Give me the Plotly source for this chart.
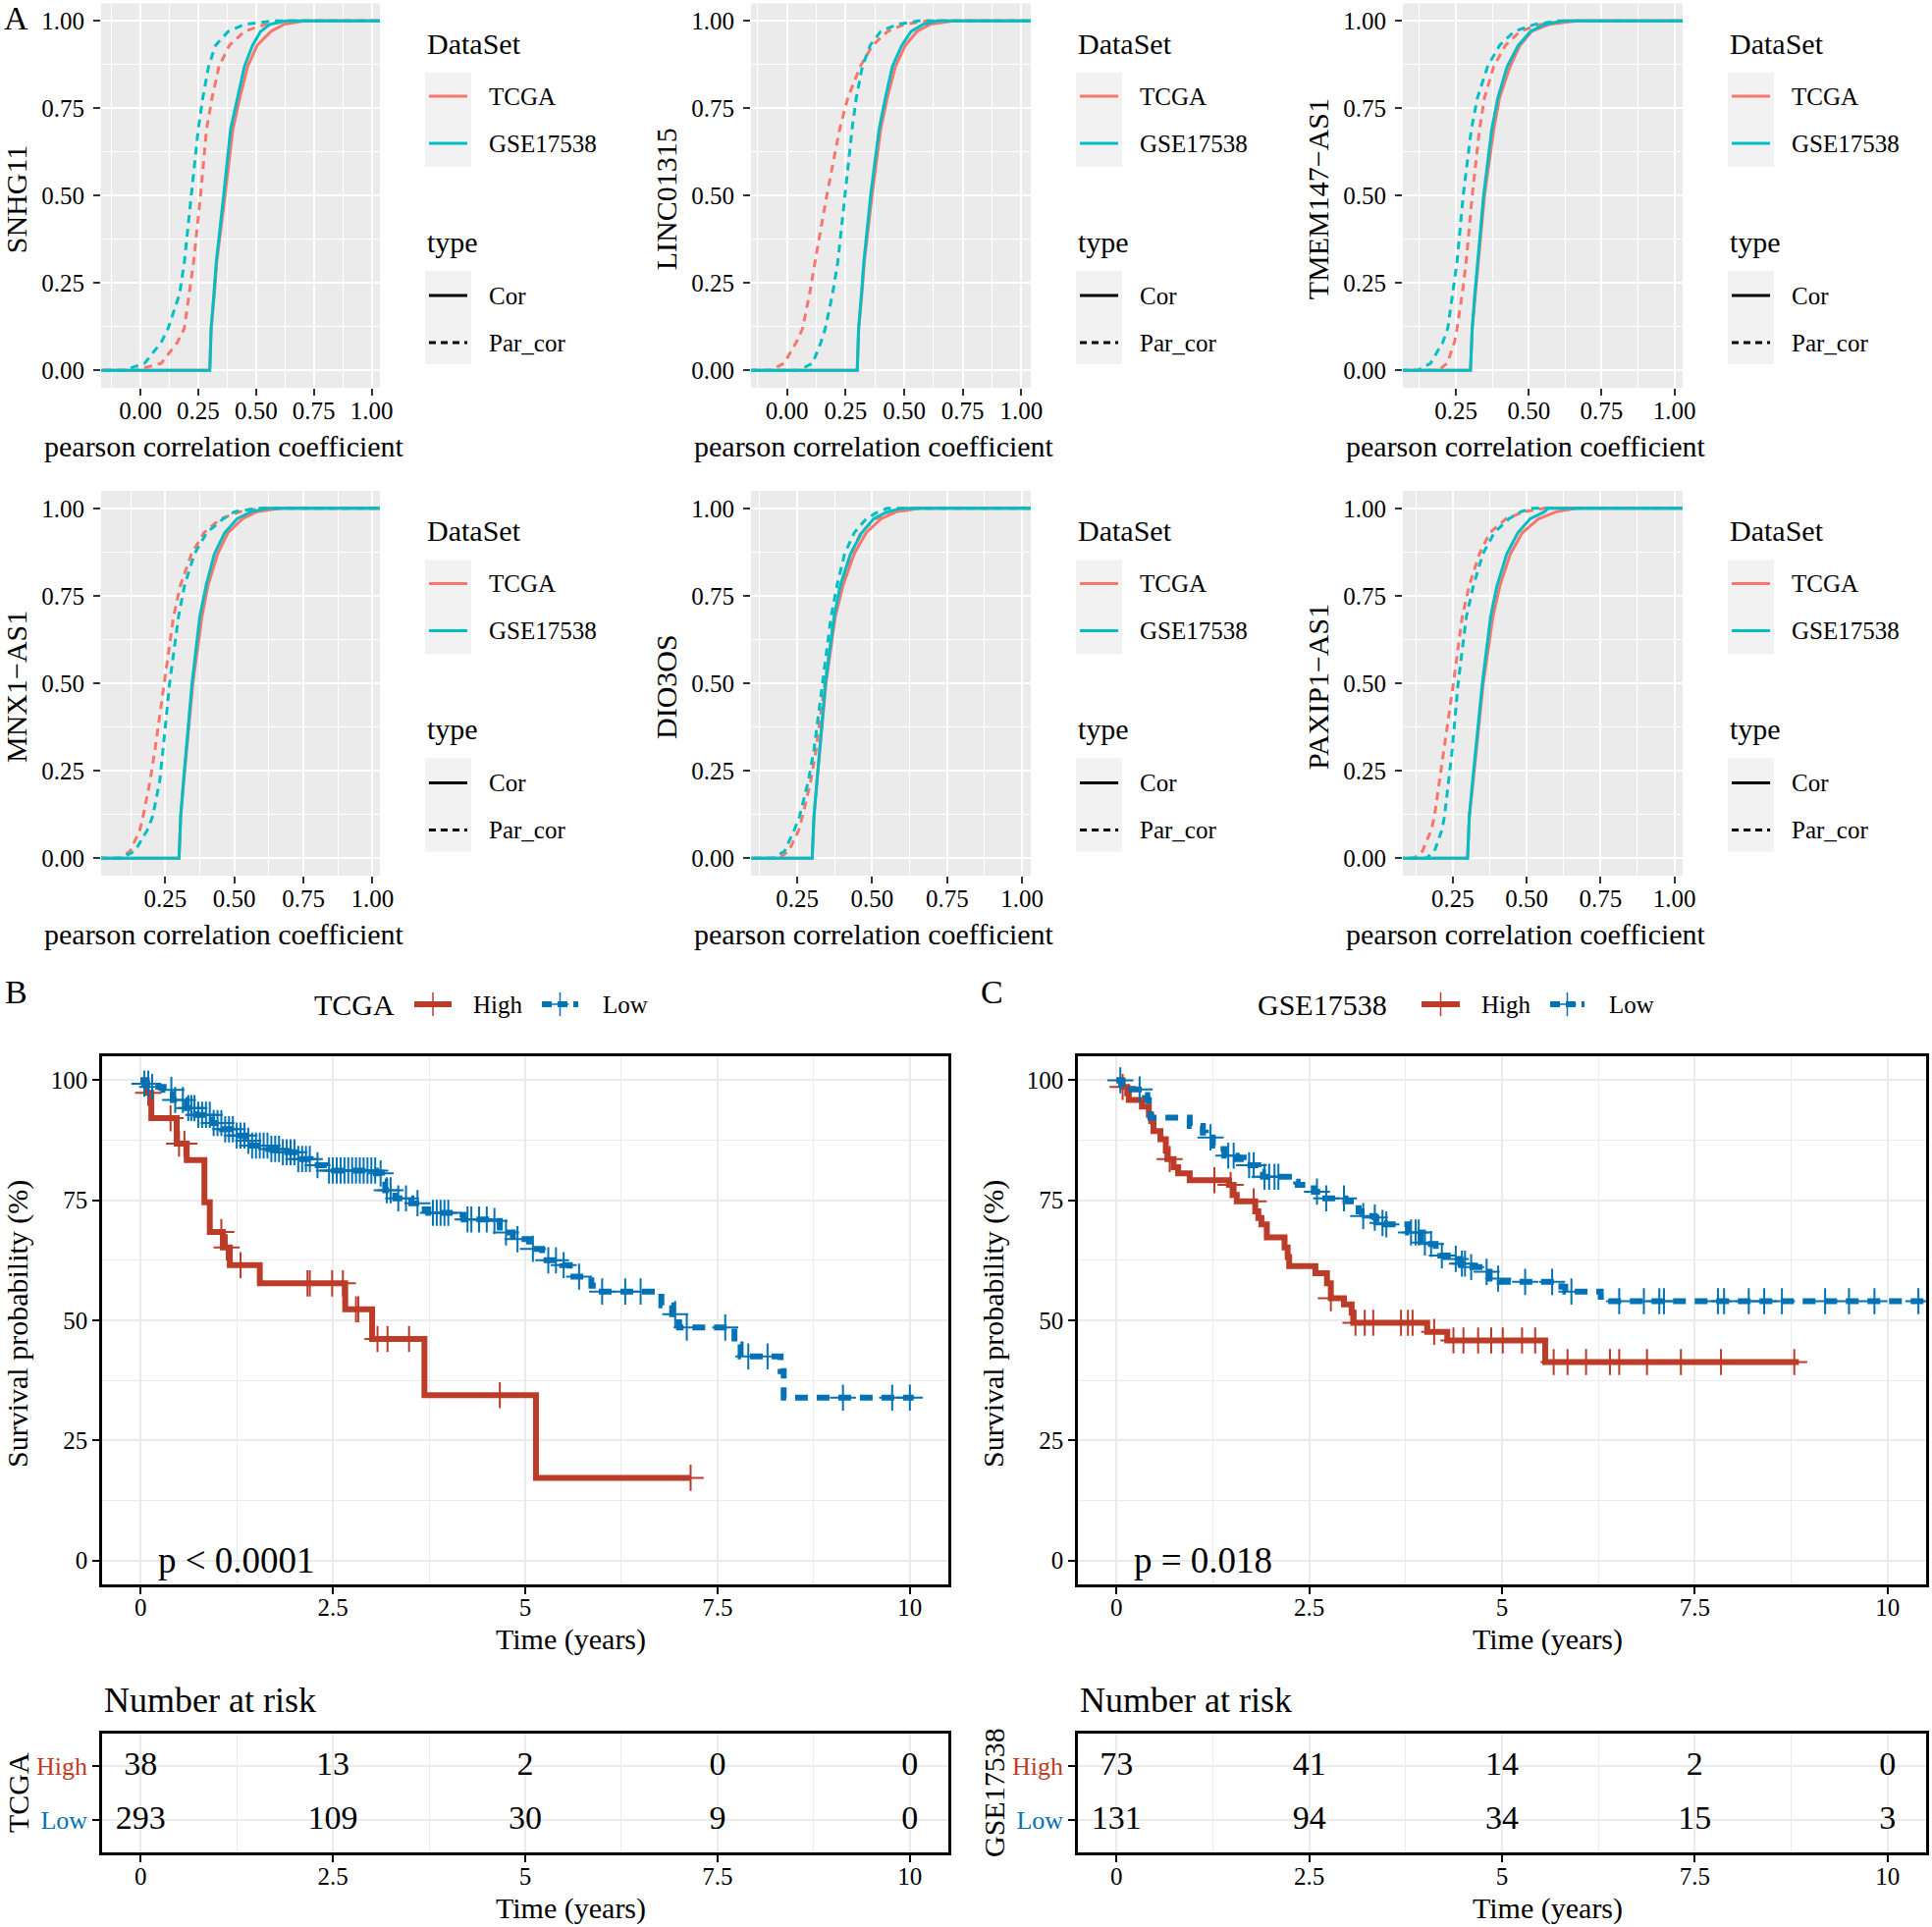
import plotly.graph_objects as go

W, H = 1968, 1963
SERIF = "Liberation Serif, Times New Roman, serif"

# ---------------- A: ECDF of pearson correlation (x quantiles)
ecdf_levels = [0, 0.02, 0.08, 0.12, 0.22, 0.31, 0.5, 0.69, 0.78, 0.87, 0.93, 0.97, 0.99, 1.0]

genes = ["SNHG11", "LINC01315", "TMEM147−AS1", "MNX1−AS1", "DIO3OS", "PAXIP1−AS1"]

snhg11 = {
    "TCGA Cor": [0.30, 0.301, 0.303, 0.306, 0.32, 0.33, 0.366, 0.40, 0.43, 0.464, 0.505, 0.565, 0.62, 0.71],
    "TCGA Par_cor": [-0.02, 0.09, 0.16, 0.19, 0.21, 0.23, 0.26, 0.286, 0.31, 0.34, 0.385, 0.45, 0.54, 0.64],
    "GSE17538 Cor": [0.30, 0.301, 0.303, 0.306, 0.318, 0.328, 0.36, 0.39, 0.42, 0.45, 0.485, 0.52, 0.56, 0.63],
    "GSE17538 Par_cor": [-0.07, 0.018, 0.09, 0.12, 0.17, 0.19, 0.22, 0.25, 0.27, 0.295, 0.325, 0.38, 0.45, 0.57],
}
linc01315 = {
    "TCGA Cor": [0.30, 0.301, 0.303, 0.306, 0.32, 0.33, 0.363, 0.40, 0.428, 0.463, 0.505, 0.555, 0.61, 0.71],
    "TCGA Par_cor": [-0.07, -0.012, 0.04, 0.067, 0.097, 0.12, 0.17, 0.225, 0.26, 0.313, 0.365, 0.43, 0.50, 0.60],
    "GSE17538 Cor": [0.30, 0.301, 0.303, 0.306, 0.318, 0.328, 0.357, 0.393, 0.42, 0.45, 0.49, 0.53, 0.58, 0.64],
    "GSE17538 Par_cor": [0.05, 0.11, 0.145, 0.164, 0.195, 0.217, 0.248, 0.278, 0.296, 0.322, 0.355, 0.40, 0.47, 0.56],
}
tmem147_as1 = {
    "TCGA Cor": [0.30, 0.301, 0.303, 0.306, 0.317, 0.327, 0.348, 0.38, 0.40, 0.436, 0.47, 0.51, 0.57, 0.666],
    "TCGA Par_cor": [0.19, 0.22, 0.245, 0.254, 0.272, 0.285, 0.306, 0.331, 0.348, 0.38, 0.42, 0.47, 0.54, 0.625],
    "GSE17538 Cor": [0.30, 0.301, 0.303, 0.306, 0.315, 0.325, 0.345, 0.373, 0.394, 0.426, 0.464, 0.506, 0.555, 0.62],
    "GSE17538 Par_cor": [0.12, 0.163, 0.205, 0.222, 0.24, 0.254, 0.275, 0.303, 0.324, 0.359, 0.40, 0.45, 0.52, 0.60],
}
mnx1_as1 = {
    "TCGA Cor": [0.30, 0.301, 0.303, 0.306, 0.317, 0.328, 0.35, 0.383, 0.405, 0.44, 0.477, 0.53, 0.58, 0.67],
    "TCGA Par_cor": [0.086, 0.123, 0.158, 0.17, 0.195, 0.213, 0.247, 0.28, 0.305, 0.345, 0.39, 0.45, 0.52, 0.594],
    "GSE17538 Cor": [0.30, 0.301, 0.303, 0.306, 0.316, 0.326, 0.347, 0.375, 0.398, 0.428, 0.465, 0.51, 0.56, 0.62],
    "GSE17538 Par_cor": [0.09, 0.14, 0.185, 0.205, 0.23, 0.242, 0.266, 0.298, 0.32, 0.356, 0.40, 0.46, 0.50, 0.58],
}
dio3os = {
    "TCGA Cor": [0.30, 0.301, 0.303, 0.306, 0.316, 0.325, 0.346, 0.377, 0.403, 0.44, 0.48, 0.53, 0.58, 0.66],
    "TCGA Par_cor": [0.19, 0.222, 0.255, 0.268, 0.295, 0.313, 0.342, 0.376, 0.40, 0.43, 0.462, 0.51, 0.578, 0.646],
    "GSE17538 Cor": [0.30, 0.301, 0.303, 0.306, 0.316, 0.325, 0.344, 0.373, 0.394, 0.428, 0.465, 0.505, 0.55, 0.60],
    "GSE17538 Par_cor": [0.17, 0.208, 0.24, 0.258, 0.287, 0.306, 0.335, 0.363, 0.383, 0.408, 0.44, 0.48, 0.52, 0.55],
}
paxip1_as1 = {
    "TCGA Cor": [0.30, 0.301, 0.303, 0.306, 0.319, 0.33, 0.353, 0.386, 0.41, 0.445, 0.485, 0.54, 0.60, 0.67],
    "TCGA Par_cor": [0.12, 0.147, 0.177, 0.188, 0.205, 0.22, 0.252, 0.282, 0.306, 0.34, 0.375, 0.43, 0.49, 0.56],
    "GSE17538 Cor": [0.30, 0.301, 0.303, 0.306, 0.317, 0.327, 0.35, 0.378, 0.40, 0.433, 0.47, 0.512, 0.56, 0.573],
    "GSE17538 Par_cor": [0.16, 0.188, 0.213, 0.222, 0.236, 0.248, 0.268, 0.296, 0.32, 0.352, 0.39, 0.44, 0.48, 0.518],
}
gene_curves = [snhg11, linc01315, tmem147_as1, mnx1_as1, dio3os, paxip1_as1]

# ---------------- B / C: Kaplan-Meier curves (survival %, years)
tcga_high_t = [0, 0.08, 0.14, 0.47, 0.60, 0.83, 0.90, 1.07, 1.16, 1.55, 2.66, 3.01, 3.69, 5.14, 7.15]
tcga_high_s = [100, 97.4, 92.1, 86.8, 83.4, 74.6, 68.4, 65.2, 61.5, 57.7, 52.3, 46.1, 34.4, 17.2, 17.2]
tcga_high_cens = [0.1, 0.39, 0.5, 0.57, 1.05, 1.12, 1.30, 2.17, 2.2, 2.49, 2.63, 2.80, 2.83, 3.08, 3.21,
                  3.49, 4.67, 7.15]

tcga_low_t = [0, 0.05, 0.15, 0.3, 0.42, 0.6, 0.72, 0.93, 1.06, 1.23, 1.36, 1.44, 1.66, 1.83, 2.04, 2.21,
              2.42, 3.06, 3.14, 3.18, 3.31, 3.52, 3.63, 3.74, 4.12, 4.2, 4.54, 4.67, 4.84, 5.05, 5.22,
              5.48, 5.58, 5.86, 5.94, 6.77, 6.91, 7.0, 7.72, 7.8, 8.32, 8.36, 10.05]
tcga_low_s = [100, 99.3, 98.6, 98.0, 95.9, 94.2, 92.8, 91.1, 89.8, 88.5, 87.4, 86.4, 85.7, 85.0, 83.6, 82.3,
              81.2, 80.6, 78.9, 77.1, 75.4, 74.4, 73.1, 72.4, 72.0, 71.0, 70.7, 68.3, 66.9, 64.9, 62.5,
              61.5, 59.1, 57.2, 56.0, 53.1, 51.3, 48.5, 45.0, 42.5, 39.4, 33.9, 33.9]
tcga_low_cens = [0.05, 0.1, 0.15, 0.4, 0.45, 0.55, 0.62, 0.66, 0.7, 0.75, 0.8, 0.85, 0.9, 0.95, 1.0, 1.05,
                 1.1, 1.15, 1.2, 1.25, 1.3, 1.35, 1.4, 1.45, 1.5, 1.55, 1.6, 1.65, 1.7, 1.75, 1.8, 1.85,
                 1.9, 1.95, 2.0, 2.05, 2.1, 2.15, 2.2, 2.3, 2.45, 2.5, 2.55, 2.6, 2.65, 2.7, 2.75, 2.8,
                 2.85, 2.9, 2.95, 3.0, 3.05, 3.12, 3.2, 3.25, 3.35, 3.45, 3.6, 3.8, 3.85, 3.9, 3.95, 4.0,
                 4.25, 4.3, 4.4, 4.5, 4.6, 4.75, 4.9, 5.1, 5.3, 5.4, 5.5, 5.7, 6.0, 6.3, 6.5, 6.95, 7.1,
                 7.6, 7.9, 8.15, 9.13, 9.77, 10.0]

gse_high_t = [0, 0.08, 0.14, 0.16, 0.33, 0.42, 0.45, 0.48, 0.57, 0.64, 0.66, 0.74, 0.80, 0.95, 1.46, 1.52,
              1.56, 1.80, 1.84, 1.88, 1.95, 2.18, 2.22, 2.24, 2.58, 2.73, 2.78, 2.95, 3.05, 3.07, 4.03,
              4.29, 5.56, 8.85]
gse_high_s = [100, 98.6, 97.3, 95.9, 94.5, 92.8, 91.5, 89.4, 87.7, 85.3, 83.6, 81.9, 80.6, 79.2, 78.2, 76.1,
              74.8, 72.7, 71.3, 70.0, 67.3, 65.2, 63.2, 61.3, 59.8, 57.7, 54.6, 53.3, 51.6, 49.5, 47.6,
              45.8, 41.3, 41.3]
gse_high_cens = [0.08, 0.69, 1.27, 1.48, 1.78, 2.78, 3.10, 3.22, 3.33, 3.69, 3.78, 3.84, 4.12, 4.37, 4.50,
                 4.69, 4.86, 5.01, 5.26, 5.43, 5.67, 5.85, 6.09, 6.40, 6.52, 6.88, 7.32, 7.84, 8.79]

gse_low_t = [0, 0.06, 0.12, 0.37, 0.40, 0.42, 0.44, 0.95, 1.12, 1.16, 1.25, 1.29, 1.4, 1.56, 1.65, 1.84,
             1.9, 2.33, 2.35, 2.52, 2.56, 2.65, 2.97, 3.14, 3.18, 3.35, 3.37, 3.48, 3.78, 3.95, 4.03, 4.14,
             4.2, 4.39, 4.46, 4.56, 4.75, 4.84, 4.97, 5.77, 5.82, 6.28, 6.33, 10.6]
gse_low_s = [100, 99.2, 98.1, 96.9, 95.9, 93.9, 92.2, 90.5, 89.1, 88.1, 86.4, 85.7, 84.3, 83.6, 82.3, 80.9,
             79.9, 78.9, 78.2, 77.5, 76.8, 75.4, 74.8, 72.7, 71.7, 71.4, 70.3, 70.0, 68.3, 66.2, 65.9, 64.5,
             63.5, 62.8, 61.8, 61.1, 60.1, 58.7, 58.0, 57.0, 56.0, 54.9, 54.0, 54.0]
gse_low_cens = [0.05, 0.3, 1.22, 1.45, 1.52, 1.72, 1.78, 1.92, 1.98, 2.05, 2.1, 2.6, 2.72, 2.95, 3.2, 3.35,
                3.45, 3.5, 3.82, 3.88, 3.92, 4.0, 4.08, 4.22, 4.4, 4.48, 4.52, 4.6, 4.8, 4.95, 5.3, 5.65,
                5.9, 6.52, 6.84, 7.04, 7.1, 7.8, 7.88, 8.2, 8.4, 8.63, 9.19, 9.5, 9.83, 10.4]

risk_times = [0, 2.5, 5, 7.5, 10]
tcga_risk_high = [38, 13, 2, 0, 0]
tcga_risk_low = [293, 109, 30, 9, 0]
gse_risk_high = [73, 41, 14, 2, 0]
gse_risk_low = [131, 94, 34, 15, 3]

# ---------------- helpers
RED, BLUE = "#BC3C29", "#0072B5"
DS_COL = {"TCGA": "#F8766D", "GSE17538": "#00BFC4"}
TYPE_DASH = {"Cor": "solid", "Par_cor": "8px,6px"}


def px(x):
    return x / W


def py(y):
    return 1 - y / H


annotations = []
shapes = []


def text(x, y, s, size, xanchor="center", yanchor="middle", angle=0, color="black"):
    annotations.append(dict(x=px(x), y=py(y), xref="paper", yref="paper", text=s, showarrow=False,
                            font=dict(family=SERIF, size=size, color=color),
                            xanchor=xanchor, yanchor=yanchor, textangle=angle))


def seg(x0, y0, x1, y1, color, width, dash="solid"):
    shapes.append(dict(type="line", xref="paper", yref="paper", x0=px(x0), x1=px(x1), y0=py(y0), y1=py(y1),
                       line=dict(color=color, width=width, dash=dash)))


def step_value(times, surv, t):
    v = surv[0]
    for tt, ss in zip(times, surv):
        if tt <= t:
            v = ss
    return v


fig = go.Figure()
layout = {}

# ---------------- A panels
col_x = [(103, 387), (765, 1050), (1429, 1714)]
row_y = [(3.5, 395), (500, 892)]
x_ranges = [[-0.17, 1.036], [-0.153, 1.04], [0.068, 1.028], [0.018, 1.027], [0.096, 1.029], [0.081, 1.028]]

for i, gene in enumerate(genes):
    r, c = divmod(i, 3)
    (L, R), (T, B) = col_x[c], row_y[r]
    k = i + 1
    sfx = "" if k == 1 else str(k)
    lo, hi = x_ranges[i]
    for ds in ["TCGA", "GSE17538"]:
        for tp in ["Cor", "Par_cor"]:
            q = gene_curves[i][f"{ds} {tp}"]
            fig.add_trace(go.Scatter(
                x=[lo - 1] + q + [hi + 1], y=[0] + ecdf_levels + [1], mode="lines",
                line=dict(color=DS_COL[ds], width=3, dash=TYPE_DASH[tp]),
                xaxis="x" + sfx, yaxis="y" + sfx, showlegend=False, hoverinfo="skip"))

    xt = [t for t in [0, 0.25, 0.5, 0.75, 1.0] if lo <= t <= hi]
    xm = [t for t in [-0.125, 0.125, 0.375, 0.625, 0.875] if lo < t < hi]
    common = dict(showgrid=True, gridcolor="white", gridwidth=2.2, zeroline=False, showline=False,
                  ticks="outside", ticklen=7, tickwidth=2.2, tickcolor="#333333", automargin=False,
                  tickfont=dict(family=SERIF, size=25, color="black"), tickmode="array")
    layout["xaxis" + sfx] = dict(common, domain=[px(L), px(R)], range=[lo, hi], anchor="y" + sfx,
                                 tickvals=xt, ticktext=[f"{t:.2f}" for t in xt], ticklabelstandoff=-6,
                                 minor=dict(tickmode="array", tickvals=xm, showgrid=True,
                                            gridcolor="white", gridwidth=1.1, ticks=""))
    yt = [0, 0.25, 0.5, 0.75, 1.0]
    layout["yaxis" + sfx] = dict(common, domain=[py(B), py(T)], range=[-0.05, 1.05], anchor="x" + sfx,
                                 tickvals=yt, ticktext=[f"{t:.2f}" for t in yt], ticklabelstandoff=4,
                                 minor=dict(tickmode="array", tickvals=[0.125, 0.375, 0.625, 0.875],
                                            showgrid=True, gridcolor="white", gridwidth=1.1, ticks=""))
    shapes.append(dict(type="rect", xref=f"x{sfx} domain", yref=f"y{sfx} domain", x0=0, x1=1, y0=0, y1=1,
                       fillcolor="#EBEBEB", line=dict(width=0), layer="below"))

    # axis titles
    text(L - 87, (T + B) / 2 + 4, gene, 30, angle=-90)
    text((L + R) / 2 - 17, T + 451, "pearson correlation coefficient", 30)

    # legend (ggplot style)
    text(R + 46, T + 40.5, "DataSet", 30, xanchor="left")
    shapes.append(dict(type="rect", xref="paper", yref="paper", x0=px(R + 46), x1=px(R + 93),
                       y0=py(T + 166.5), y1=py(T + 70.5), fillcolor="#F2F2F2", line=dict(width=0)))
    for j, ds in enumerate(["TCGA", "GSE17538"]):
        yy = T + 94.5 + 48 * j
        seg(R + 50, yy, R + 89, yy, DS_COL[ds], 3.2)
        text(R + 109, yy, ds, 25, xanchor="left")
    text(R + 46, T + 243, "type", 30, xanchor="left")
    shapes.append(dict(type="rect", xref="paper", yref="paper", x0=px(R + 46), x1=px(R + 93),
                       y0=py(T + 367.5), y1=py(T + 272.5), fillcolor="#F2F2F2", line=dict(width=0)))
    for j, tp in enumerate(["Cor", "Par_cor"]):
        yy = T + 297.5 + 48 * j
        seg(R + 50, yy, R + 89, yy, "black", 3.2, "solid" if tp == "Cor" else "7px,5px")
        text(R + 109, yy, tp, 25, xanchor="left")

# ---------------- B / C survival panels
km_panels = [
    dict(k=7, rk=9, L=104, R=966, name="TCGA", letter="B",
         high=(tcga_high_t, tcga_high_s, tcga_high_cens), low=(tcga_low_t, tcga_low_s, tcga_low_cens),
         risk_high=tcga_risk_high, risk_low=tcga_risk_low, pval="p < 0.0001",
         leg=dict(title=361, hk=(422, 460), hl=480, lk=(552, 589), ll=612)),
    dict(k=8, rk=10, L=1098, R=1962, name="GSE17538", letter="C",
         high=(gse_high_t, gse_high_s, gse_high_cens), low=(gse_low_t, gse_low_s, gse_low_cens),
         risk_high=gse_risk_high, risk_low=gse_risk_low, pval="p = 0.018",
         leg=dict(title=1347, hk=(1448, 1487), hl=1507, lk=(1579, 1614), ll=1637)),
]

xticks = [0, 2.5, 5, 7.5, 10]
xlabels = ["0", "2.5", "5", "7.5", "10"]
GRID = "#EBEBEB"
box = dict(showline=True, mirror=True, linecolor="black", linewidth=2.5, zeroline=False,
           ticks="outside", ticklen=7, tickwidth=2.2, tickcolor="black", automargin=False,
           tickfont=dict(family=SERIF, size=25, color="black"), tickmode="array",
           showgrid=True, gridcolor=GRID, gridwidth=2.2)

for p in km_panels:
    k, rk, L, R = p["k"], p["rk"], p["L"], p["R"]
    for (t, s, cens), col, dash in [(p["high"], RED, "solid"), (p["low"], BLUE, "13px,9px")]:
        fig.add_trace(go.Scatter(x=t, y=s, mode="lines", line=dict(shape="hv", color=col, width=6, dash=dash),
                                 xaxis=f"x{k}", yaxis=f"y{k}", showlegend=False, hoverinfo="skip"))
        fig.add_trace(go.Scatter(x=cens, y=[step_value(t, s, c) for c in cens], mode="markers",
                                 marker=dict(symbol="cross-thin", size=19, color=col, line=dict(width=2, color=col)),
                                 xaxis=f"x{k}", yaxis=f"y{k}", showlegend=False, hoverinfo="skip"))

    layout[f"xaxis{k}"] = dict(box, domain=[px(L), px(R)], range=[-0.5, 10.5], anchor=f"y{k}",
                               tickvals=xticks, ticktext=xlabels, ticklabelstandoff=-8,
                               minor=dict(tickmode="array", tickvals=[1.25, 3.75, 6.25, 8.75], showgrid=True,
                                          gridcolor=GRID, gridwidth=1.1, ticks=""))
    layout[f"yaxis{k}"] = dict(box, domain=[py(1614), py(1076)], range=[-5, 105], anchor=f"x{k}",
                               tickvals=[0, 25, 50, 75, 100], ticktext=["0", "25", "50", "75", "100"],
                               minor=dict(tickmode="array", tickvals=[12.5, 37.5, 62.5, 87.5], showgrid=True,
                                          gridcolor=GRID, gridwidth=1.1, ticks=""))
    annotations.append(dict(x=0.2, y=0, xref=f"x{k}", yref=f"y{k}", text=p["pval"], showarrow=False,
                            xanchor="left", yanchor="middle", font=dict(family=SERIF, size=37, color="black")))

    # risk table
    fig.add_trace(go.Scatter(x=risk_times + risk_times, y=[2] * 5 + [1] * 5, mode="text",
                             text=[str(v) for v in p["risk_high"] + p["risk_low"]],
                             textfont=dict(family=SERIF, size=34, color="black"),
                             xaxis=f"x{rk}", yaxis=f"y{rk}", showlegend=False, hoverinfo="skip"))
    layout[f"xaxis{rk}"] = dict(box, domain=[px(L), px(R)], range=[-0.5, 10.5], anchor=f"y{rk}",
                                tickvals=xticks, ticktext=xlabels, ticklabelstandoff=-7,
                                minor=dict(tickmode="array", tickvals=[1.25, 3.75, 6.25, 8.75], showgrid=True,
                                           gridcolor=GRID, gridwidth=1.1, ticks=""))
    layout[f"yaxis{rk}"] = dict(box, domain=[py(1887), py(1766)], range=[0.4, 2.6], anchor=f"x{rk}",
                                tickvals=[1, 2],
                                ticktext=[f"<span style='color:{BLUE}'>Low</span>",
                                          f"<span style='color:{RED}'>High</span>"],
                                tickfont=dict(family=SERIF, size=26))

    text(L - 88, 1011, p["letter"], 34)
    text(L - 86, 1349, "Survival probability (%)", 30, angle=-90)
    text((L + R) / 2 + 46, 1670, "Time (years)", 30)
    text(L, 1732, "Number at risk", 36, xanchor="left")
    text(L - 86, 1826, p["name"], 30, angle=-90)
    text((L + R) / 2 + 46, 1944, "Time (years)", 30)

    # legend row
    lg = p["leg"]
    text(lg["title"], 1023, p["name"], 30)
    seg(lg["hk"][0], 1023, lg["hk"][1], 1023, RED, 6)
    hc = sum(lg["hk"]) / 2
    seg(hc, 1011, hc, 1035, RED, 1.5)
    text(lg["hl"], 1023, "High", 25, xanchor="left")
    seg(lg["lk"][0], 1023, lg["lk"][1], 1023, BLUE, 6, "10px,6px")
    lc = sum(lg["lk"]) / 2
    seg(lc, 1011, lc, 1035, BLUE, 1.5)
    seg(lc - 9, 1023, lc + 9, 1023, BLUE, 1.5)
    text(lg["ll"], 1023, "Low", 25, xanchor="left")

text(16, 18, "A", 34)

fig.update_layout(
    **layout,
    width=W, height=H,
    margin=dict(l=0, r=0, t=0, b=0),
    paper_bgcolor="white", plot_bgcolor="white",
    font=dict(family=SERIF, color="black"),
    showlegend=False,
    annotations=annotations,
    shapes=shapes,
)

# the page's default body margin would push the fixed-size figure off the window
fig.write_html("out.html", config={"displayModeBar": False},
               post_script="document.body.style.margin='0';document.body.style.overflow='hidden';")
